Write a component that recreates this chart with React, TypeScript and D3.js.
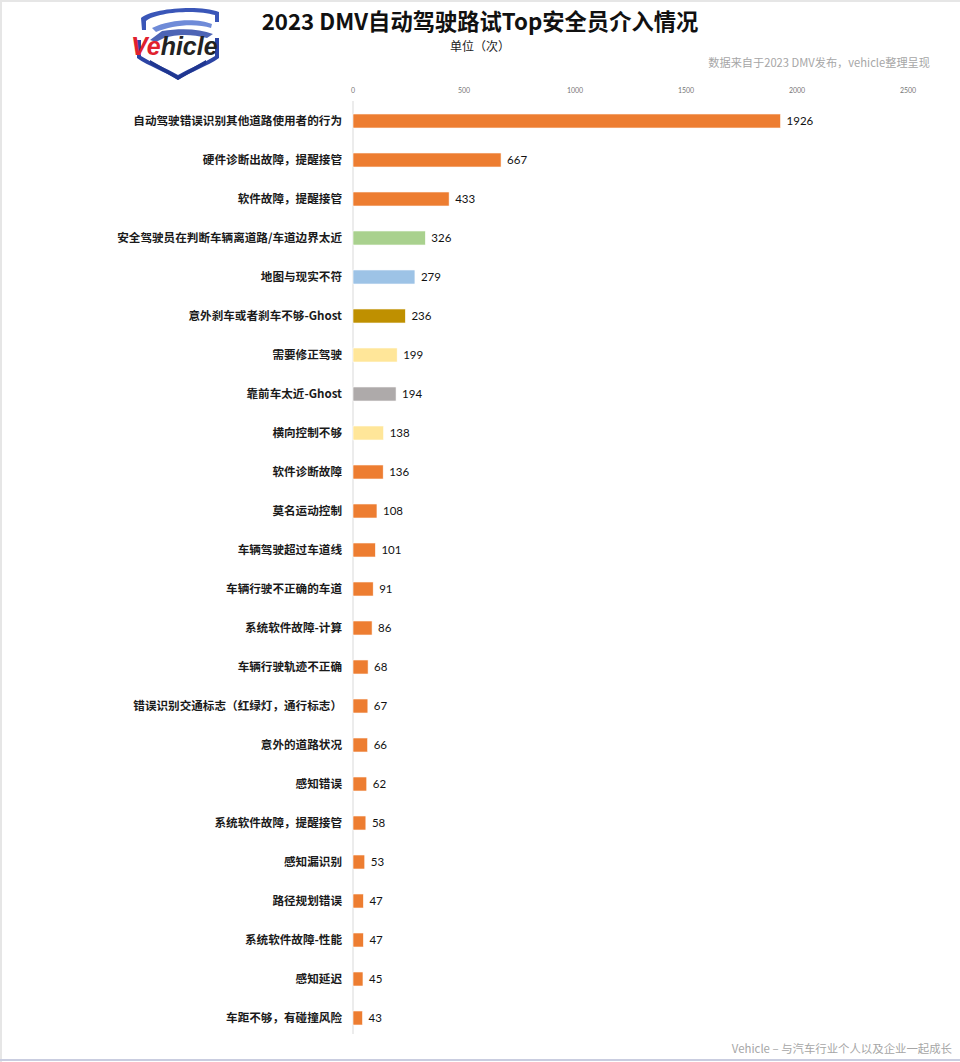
import React from "react";
import * as d3 from "d3";

const categories = [
  "自动驾驶错误识别其他道路使用者的行为",
  "硬件诊断出故障，提醒接管",
  "软件故障，提醒接管",
  "安全驾驶员在判断车辆离道路/车道边界太近",
  "地图与现实不符",
  "意外刹车或者刹车不够-Ghost",
  "需要修正驾驶",
  "靠前车太近-Ghost",
  "横向控制不够",
  "软件诊断故障",
  "莫名运动控制",
  "车辆驾驶超过车道线",
  "车辆行驶不正确的车道",
  "系统软件故障-计算",
  "车辆行驶轨迹不正确",
  "错误识别交通标志（红绿灯，通行标志）",
  "意外的道路状况",
  "感知错误",
  "系统软件故障，提醒接管",
  "感知漏识别",
  "路径规划错误",
  "系统软件故障-性能",
  "感知延迟",
  "车距不够，有碰撞风险",
];
const values = [1926, 667, 433, 326, 279, 236, 199, 194, 138, 136, 108, 101, 91, 86, 68, 67, 66, 62, 58, 53, 47, 47, 45, 43];
const colorKeys = ["o", "o", "o", "g", "b", "d", "y", "s", "y", "o", "o", "o", "o", "o", "o", "o", "o", "o", "o", "o", "o", "o", "o", "o"];
const palette: Record<string, string> = {
  o: "#ED7D31",
  g: "#A9D18E",
  b: "#9DC3E6",
  d: "#BF9000",
  y: "#FFE699",
  s: "#AEAAAA",
};
const ticks = [0, 500, 1000, 1500, 2000, 2500];

const W = 960;
const H = 1062;
const CJK = "'Noto Sans CJK SC', 'Noto Sans', sans-serif";
const NUM = "Lato, 'Open Sans', 'Noto Sans CJK SC', sans-serif";

export default function App() {
  const x = d3.scaleLinear().domain([0, 2500]).range([353, 908]);
  const y = d3
    .scaleBand<string>()
    .domain(categories)
    .range([101.5, 1037.5])
    .paddingInner(0.64)
    .paddingOuter(0.32);
  const bh = y.bandwidth();

  return (
    <div style={{ position: "absolute", left: 0, top: 0 }}>
      <svg width={W} height={H} style={{ display: "block", background: "#fff" }}>
        <rect x={0} y={0} width={W} height={H} fill="#fff" />
        {/* frame edges */}
        <rect x={0} y={0} width={W} height={2} fill="#e6e6e6" />
        <rect x={0} y={0} width={2} height={H} fill="#e6e6e6" />
        <rect x={0} y={1059} width={W} height={2} fill="#c9cde0" />

        {/* logo */}
        <g>
          <path d="M141,18 C150,9 198,4 219,12 L219,22 L215,22 L215,15 C196,9 156,12 146,21 L146,30 L142,30 Z" fill="#3a56b8" />
          <path d="M152,28 C170,19 198,18 212,24 L211,28 C196,23 172,25 156,32 Z" fill="#6f8bd8" />
          <path d="M150,40 L162,31 C182,28 200,29 213,34 L207,38 C192,34 177,34 164,38 L156,42 Z" fill="#2e49a8" opacity={0.85} />
          <path d="M137,40 L137,58 C148,66 166,72 178,80 C190,72 208,66 219,58 L219,38 L215,38 L215,56 C204,63 190,68 178,75 C166,68 152,63 141,56 L141,40 Z" fill="#2c44a4" />
          <path d="M150,60 L178,76 L206,60 L206,64 L178,80 L150,64 Z" fill="#1f3690" />
          <text x={131} y={55} fontFamily="'Liberation Sans', Arial, sans-serif" fontSize={25} fontWeight={700} fontStyle="italic">
            <tspan fill="#e0212e">Ve</tspan>
            <tspan fill="#222">hicle</tspan>
          </text>
        </g>

        {/* title */}
        <text x={480} y={30} textAnchor="middle" fontFamily={CJK} fontSize={22.3} fontWeight={700} fill="#111">
          2023 DMV自动驾驶路试Top安全员介入情况
        </text>
        <text x={480} y={51} textAnchor="middle" fontFamily={CJK} fontSize={12} fill="#222">
          单位（次）
        </text>
        <text x={930} y={67} textAnchor="end" fontFamily={CJK} fontSize={11.2} fill="#a6a6a6">
          数据来自于2023 DMV发布，vehicle整理呈现
        </text>

        {/* axis ticks */}
        {ticks.map((t) => (
          <text key={t} x={x(t)} y={93} textAnchor="middle" fontFamily={NUM} fontSize={7} fill="#777">
            {t}
          </text>
        ))}
        <line x1={x(0)} x2={x(0)} y1={101} y2={1034} stroke="#d9d9d9" strokeWidth={1} />

        {/* bars */}
        {categories.map((c, i) => {
          const yy = y(c)!;
          const cy = yy + bh / 2;
          return (
            <g key={c}>
              <rect
                x={x(0)}
                y={yy}
                width={x(values[i]) - x(0)}
                height={bh}
                fill={palette[colorKeys[i]]}
                stroke="#fff"
                strokeWidth={0.6}
              />
              <text
                x={342}
                y={cy}
                dy="0.36em"
                textAnchor="end"
                fontFamily={CJK}
                fontSize={11.6}
                fontWeight={700}
                fill="#1a1a1a"
              >
                {c}
              </text>
              <text x={x(values[i]) + 6} y={cy} dy="0.36em" fontFamily={NUM} fontSize={11.5} fill="#111">
                {values[i]}
              </text>
            </g>
          );
        })}

        {/* footer */}
        <text x={952} y={1053} textAnchor="end" fontFamily={CJK} fontSize={11.4} fill="#a6a6a6">
          Vehicle – 与汽车行业个人以及企业一起成长
        </text>
      </svg>
    </div>
  );
}
